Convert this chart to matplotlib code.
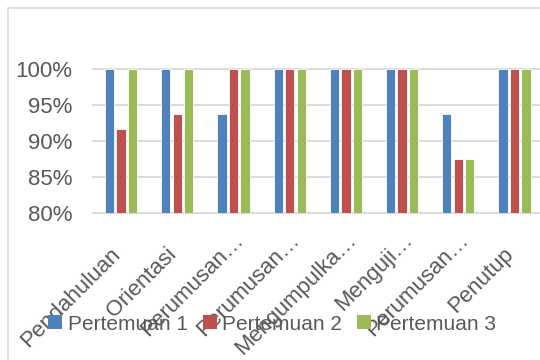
import matplotlib
matplotlib.use("Agg")
import matplotlib.pyplot as plt
import numpy as np
from matplotlib.transforms import ScaledTranslation
from matplotlib.patches import Rectangle

categories = ["Pendahuluan", "Orientasi", "Perumusan…", "Perumusan…",
              "Mengumpulka…", "Menguji…", "Perumusan…", "Penutup"]
series_names = ["Pertemuan 1", "Pertemuan 2", "Pertemuan 3"]
pertemuan1 = [100, 100, 93.75, 100, 100, 100, 93.75, 100]
pertemuan2 = [91.67, 93.75, 100, 100, 100, 100, 87.5, 100]
pertemuan3 = [100, 100, 100, 100, 100, 100, 87.5, 100]
yticks = [80, 85, 90, 95, 100]
ytick_labels = ["80%", "85%", "90%", "95%", "100%"]

colors = ["#4F81BD", "#C0504D", "#9BBB59"]
FONT = "Liberation Sans"
TXT = "#595959"

fig = plt.figure(figsize=(5.4, 3.6), dpi=100)
fig.patch.set_facecolor("white")
# chart border
fig.add_artist(Rectangle((7.5 / 540, -0.1), 1.2, (360 - 7.5) / 360 + 0.1,
                         transform=fig.transFigure, fill=False,
                         edgecolor="#d9d9d9", linewidth=1.2))

ax = fig.add_axes([93 / 540, (360 - 212.7) / 360, (542.6 - 93) / 540, 143.7 / 360])
x = np.arange(len(categories))
off = 0.205
w = 0.165
for i, vals in enumerate([pertemuan1, pertemuan2, pertemuan3]):
    ax.bar(x + (i - 1) * off, np.array(vals) - 80, bottom=80, width=w,
           color=colors[i], edgecolor="white", linewidth=0.6,
           label=series_names[i], zorder=3)

ax.set_xlim(-0.5, len(categories) - 0.5)
ax.set_ylim(80, 100)
ax.set_yticks(yticks)
ax.set_yticklabels(ytick_labels, fontsize=16, color=TXT, family=FONT)
ax.tick_params(axis="y", length=0, pad=15)
ax.tick_params(axis="x", length=0, labelbottom=False)
ax.grid(axis="y", color="#d9d9d9", linewidth=1.3, zorder=0)
for gl in ax.get_ygridlines():
    gl.set_clip_on(False)
for s in ax.spines.values():
    s.set_visible(False)

px = 72 / 100.0
for i, lab in enumerate(categories):
    if lab.endswith("…"):
        dx, dy = 11, -28
    else:
        dx, dy = 0, -42
    tr = ax.get_xaxis_transform() + ScaledTranslation(dx * px / 72, dy * px / 72, fig.dpi_scale_trans)
    ax.text(i, 0, lab, transform=tr, rotation=45, rotation_mode="anchor",
            ha="right", va="baseline", fontsize=16, color=TXT, family=FONT)

leg = fig.legend(loc="center", bbox_to_anchor=(0.504, 36 / 360), ncol=3,
                 frameon=False, prop={"family": FONT, "size": 15},
                 handlelength=0.67, handleheight=0.67, handletextpad=0.25,
                 columnspacing=0.72, borderaxespad=0)
for t in leg.get_texts():
    t.set_color(TXT)
for h in leg.legend_handles:
    h.set_edgecolor("none")

fig.savefig("out.png", dpi=100, facecolor="white")
